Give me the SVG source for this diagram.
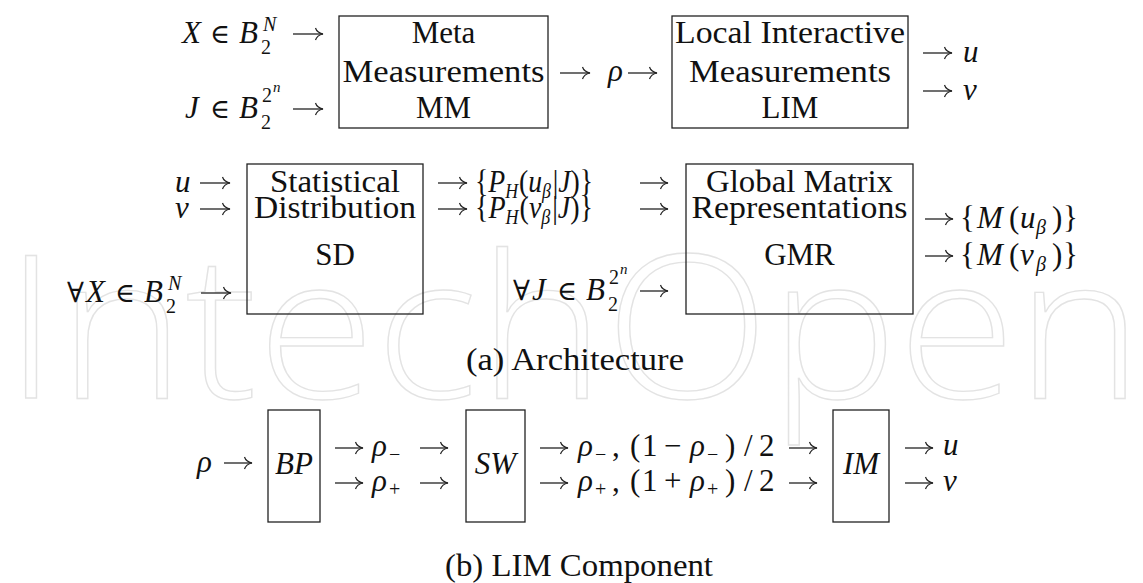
<svg xmlns="http://www.w3.org/2000/svg" width="1143" height="583" viewBox="0 0 1143 583">
<defs>
<style>
.t{font-family:"Liberation Serif","DejaVu Serif",serif;font-size:31px;fill:#111}
.c{text-anchor:middle}
.i{font-style:italic}
.s{font-size:20px}
.ss{font-size:15px}
.e{font-size:27px}
.box{fill:none;stroke:#222;stroke-width:1.3}
.ar{fill:none;stroke:#222;stroke-width:1.3;marker-end:url(#ah)}
.wm{font-family:"Open Sans","Noto Sans",sans-serif;font-weight:300;font-size:200px;fill:none;stroke:#e3e3e3;stroke-width:1.3}
</style>
<marker id="ah" markerUnits="userSpaceOnUse" markerWidth="10" markerHeight="14" refX="0" refY="0" orient="auto" overflow="visible">
<path d="M-7.5,-6 C-6.5,-2.8 -3.5,-0.8 0,0 C-3.5,0.8 -6.5,2.8 -7.5,6" fill="none" stroke="#222" stroke-width="1.2"/>
</marker>
</defs>
<rect width="1143" height="583" fill="#fff"/>
<text class="wm" x="4" y="398" textLength="1139" lengthAdjust="spacingAndGlyphs">IntechOpen</text>

<g id="node-mm">
<rect class="box" x="339" y="16" width="209" height="112"/>
<text class="t c" x="443.5" y="43">Meta</text>
<text class="t c" x="443.5" y="82" textLength="202" lengthAdjust="spacingAndGlyphs">Measurements</text>
<text class="t c" x="443.5" y="118">MM</text>
</g>
<g id="node-lim">
<rect class="box" x="672" y="16" width="236" height="112"/>
<text class="t c" x="790" y="43" textLength="230" lengthAdjust="spacingAndGlyphs">Local Interactive</text>
<text class="t c" x="790" y="82" textLength="202" lengthAdjust="spacingAndGlyphs">Measurements</text>
<text class="t c" x="790" y="118">LIM</text>
</g>
<g id="node-sd">
<rect class="box" x="247" y="164" width="176" height="150"/>
<text class="t c" x="335" y="192" textLength="130" lengthAdjust="spacingAndGlyphs">Statistical</text>
<text class="t c" x="335" y="218" textLength="162" lengthAdjust="spacingAndGlyphs">Distribution</text>
<text class="t c" x="335" y="265">SD</text>
</g>
<g id="node-gmr">
<rect class="box" x="686" y="164" width="227" height="150"/>
<text class="t c" x="799.5" y="192" textLength="187" lengthAdjust="spacingAndGlyphs">Global Matrix</text>
<text class="t c" x="799.5" y="218" textLength="216" lengthAdjust="spacingAndGlyphs">Representations</text>
<text class="t c" x="799.5" y="265">GMR</text>
</g>
<g id="node-bp">
<rect class="box" x="268" y="410" width="52" height="112"/>
<text class="t c i" x="294" y="474">BP</text>
</g>
<g id="node-sw">
<rect class="box" x="466" y="410" width="59" height="112"/>
<text class="t c i" x="495.5" y="474">SW</text>
</g>
<g id="node-im">
<rect class="box" x="833" y="410" width="56" height="112"/>
<text class="t c i" x="861" y="474">IM</text>
</g>

<g id="connectors">
<path class="ar" d="M293,34H323"/>
<path class="ar" d="M293,109H323"/>
<path class="ar" d="M560,73H590"/>
<path class="ar" d="M628,73H657"/>
<path class="ar" d="M923,53H952"/>
<path class="ar" d="M923,91H952"/>
<path class="ar" d="M200,183H230"/>
<path class="ar" d="M200,209H230"/>
<path class="ar" d="M201,293H231"/>
<path class="ar" d="M438,183H467"/>
<path class="ar" d="M640,183H668"/>
<path class="ar" d="M438,209H467"/>
<path class="ar" d="M640,209H668"/>
<path class="ar" d="M640,291H668"/>
<path class="ar" d="M925,219H953"/>
<path class="ar" d="M925,256H953"/>
<path class="ar" d="M224,463H252"/>
<path class="ar" d="M335,448H363"/>
<path class="ar" d="M420,448H448"/>
<path class="ar" d="M335,483H363"/>
<path class="ar" d="M420,483H448"/>
<path class="ar" d="M540,448H568"/>
<path class="ar" d="M789,448H817"/>
<path class="ar" d="M540,483H568"/>
<path class="ar" d="M789,483H817"/>
<path class="ar" d="M905,448H933"/>
<path class="ar" d="M905,483H933"/>
</g>

<g id="labels">
<text class="t"><tspan class="i" x="182" y="43">X</tspan><tspan class="e" x="210" y="43">∈</tspan><tspan class="i" x="239" y="43">B</tspan><tspan class="s" x="261" y="54">2</tspan><tspan class="s i" x="263" y="31">N</tspan></text>
<text class="t"><tspan class="i" x="185" y="118">J</tspan><tspan class="e" x="210" y="118">∈</tspan><tspan class="i" x="239" y="118">B</tspan><tspan class="s" x="261" y="129">2</tspan><tspan class="s" x="262" y="102">2</tspan><tspan class="ss i" x="273" y="92">n</tspan></text>
<text class="t i" x="608" y="81">ρ</text>
<text class="t i" x="963" y="62">u</text>
<text class="t i" x="963" y="100">v</text>

<text class="t i" x="175" y="192">u</text>
<text class="t i" x="175" y="218">v</text>
<text class="t"><tspan x="67" y="302" font-size="28">∀</tspan><tspan class="i" x="86" y="302">X</tspan><tspan class="e" x="115" y="302">∈</tspan><tspan class="i" x="144" y="302">B</tspan><tspan class="s" x="166" y="313">2</tspan><tspan class="s i" x="168" y="290">N</tspan></text>
<text class="t" x="475" y="192" textLength="118" lengthAdjust="spacingAndGlyphs">{<tspan class="i">P</tspan><tspan class="s i" dy="6">H</tspan><tspan dy="-6" dx="1">(</tspan><tspan class="i">u</tspan><tspan class="s i" dy="6">β</tspan><tspan dy="-6" dx="2">|</tspan><tspan class="i">J</tspan>)}</text>
<text class="t" x="475" y="218" textLength="118" lengthAdjust="spacingAndGlyphs">{<tspan class="i">P</tspan><tspan class="s i" dy="6">H</tspan><tspan dy="-6" dx="1">(</tspan><tspan class="i">v</tspan><tspan class="s i" dy="6">β</tspan><tspan dy="-6" dx="2">|</tspan><tspan class="i">J</tspan>)}</text>
<text class="t"><tspan x="513" y="300" font-size="28">∀</tspan><tspan class="i" x="532" y="300">J</tspan><tspan class="e" x="557" y="300">∈</tspan><tspan class="i" x="586" y="300">B</tspan><tspan class="s" x="608" y="311">2</tspan><tspan class="s" x="609" y="284">2</tspan><tspan class="ss i" x="620" y="274">n</tspan></text>
<text class="t"><tspan x="960" y="228">{</tspan><tspan class="i" x="977" y="228">M</tspan><tspan x="1009" y="228">(</tspan><tspan class="i" x="1020" y="228">u</tspan><tspan class="s i" x="1036" y="234">β</tspan><tspan x="1052" y="228">)</tspan><tspan x="1063" y="228">}</tspan></text>
<text class="t"><tspan x="960" y="265">{</tspan><tspan class="i" x="977" y="265">M</tspan><tspan x="1009" y="265">(</tspan><tspan class="i" x="1020" y="265">v</tspan><tspan class="s i" x="1036" y="271">β</tspan><tspan x="1052" y="265">)</tspan><tspan x="1063" y="265">}</tspan></text>

<text class="t i" x="197" y="472">ρ</text>
<text class="t"><tspan class="i" x="372" y="456">ρ</tspan><tspan class="s" x="389" y="461">−</tspan></text>
<text class="t"><tspan class="i" x="372" y="491">ρ</tspan><tspan class="s" x="389" y="496">+</tspan></text>
<text class="t"><tspan class="i" x="578" y="456">ρ</tspan><tspan class="s" x="595" y="461">−</tspan><tspan x="612" y="456">,</tspan><tspan x="630" y="456">(</tspan><tspan x="642" y="456">1</tspan><tspan x="664" y="456">−</tspan><tspan class="i" x="690" y="456">ρ</tspan><tspan class="s" x="707" y="461">−</tspan><tspan x="725" y="456">)</tspan><tspan x="744" y="456">/</tspan><tspan x="759" y="456">2</tspan></text>
<text class="t"><tspan class="i" x="578" y="491">ρ</tspan><tspan class="s" x="595" y="496">+</tspan><tspan x="612" y="491">,</tspan><tspan x="630" y="491">(</tspan><tspan x="642" y="491">1</tspan><tspan x="664" y="491">+</tspan><tspan class="i" x="690" y="491">ρ</tspan><tspan class="s" x="707" y="496">+</tspan><tspan x="725" y="491">)</tspan><tspan x="744" y="491">/</tspan><tspan x="759" y="491">2</tspan></text>
<text class="t i" x="943" y="455">u</text>
<text class="t i" x="943" y="491">v</text>
</g>

<g id="captions">
<text class="t c" x="575" y="370" textLength="218" lengthAdjust="spacingAndGlyphs">(a) Architecture</text>
<text class="t c" x="579" y="576" textLength="268" lengthAdjust="spacingAndGlyphs">(b) LIM Component</text>
</g>
</svg>
